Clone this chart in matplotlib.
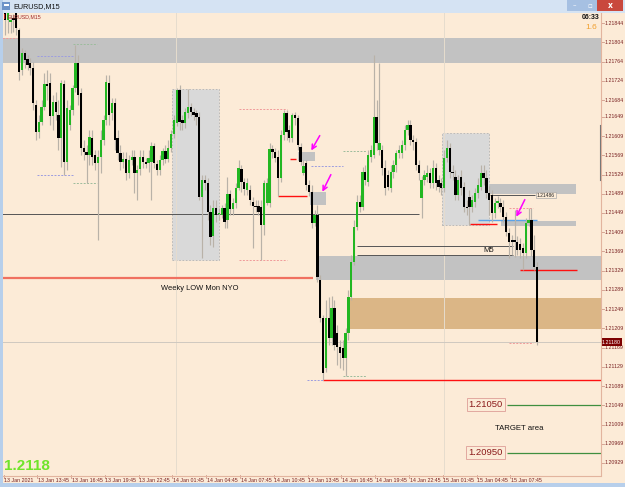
import matplotlib
matplotlib.use("Agg")
import matplotlib.pyplot as plt
import matplotlib.patches as mpatches
import matplotlib.transforms as mtransforms

# ---------------- data (EURUSD M15, 13-15 Jan 2021) ----------------
opens = [1.21865,1.21850,1.21846,1.21855,1.21865,1.21830,1.21746,1.21782,1.21769,1.21761,
1.21751,1.21674,1.21617,1.21638,1.21669,1.21717,1.21719,1.21651,1.21680,1.21653,
1.21605,1.21717,1.21555,1.21632,1.21663,1.21709,1.21761,1.21699,1.21584,1.21576,
1.21570,1.21605,1.21570,1.21553,1.21565,1.21601,1.21642,1.21719,1.21657,1.21678,
1.21605,1.21574,1.21555,1.21561,1.21532,1.21559,1.21565,1.21532,1.21540,1.21565,
1.21555,1.21553,1.21555,1.21588,1.21551,1.21538,1.21559,1.21578,1.21561,1.21584,
1.21613,1.21636,1.21705,1.21642,1.21636,1.21657,1.21669,1.21659,1.21657,1.21649,
1.21482,1.21518,1.21511,1.21451,1.21401,1.21459,1.21447,1.21445,1.21459,1.21434,
1.21489,1.21457,1.21470,1.21501,1.21540,1.21513,1.21497,1.21497,1.21472,1.21464,
1.21464,1.21461,1.21424,1.21470,1.21470,1.21582,1.21576,1.21565,1.21522,1.21611,
1.21657,1.21622,1.21605,1.21653,1.21647,1.21586,1.21532,1.21553,1.21507,1.21493,
1.21428,1.21445,1.21310,1.21231,1.21127,1.21231,1.21189,1.21251,1.21199,1.21170,
1.21168,1.21147,1.21199,1.21274,1.21347,1.21420,1.21472,1.21461,1.21534,1.21513,
1.21565,1.21570,1.21649,1.21580,1.21580,1.21543,1.21528,1.21501,1.21534,1.21549,
1.21574,1.21574,1.21590,1.21622,1.21632,1.21601,1.21597,1.21549,1.21480,1.21518,
1.21524,1.21532,1.21511,1.21543,1.21518,1.21511,1.21501,1.21563,1.21584,1.21534,
1.21524,1.21486,1.21524,1.21503,1.21461,1.21482,1.21461,1.21472,1.21491,1.21503,
1.21532,1.21522,1.21491,1.21486,1.21449,1.21470,1.21470,1.21461,1.21441,1.21407,
1.21393,1.21393,1.21389,1.21384,1.21376,1.21366,1.21428,1.21434,1.21372,1.21337]

highs = [1.21882,1.21875,1.21861,1.21863,1.21875,1.21834,1.21792,1.21788,1.21778,1.21771,
1.21763,1.21684,1.21653,1.21684,1.21740,1.21746,1.21740,1.21694,1.21701,1.21684,
1.21726,1.21726,1.21684,1.21674,1.21715,1.21798,1.21778,1.21709,1.21601,1.21590,
1.21622,1.21622,1.21580,1.21580,1.21622,1.21653,1.21736,1.21736,1.21688,1.21688,
1.21622,1.21590,1.21576,1.21576,1.21570,1.21580,1.21580,1.21549,1.21580,1.21580,
1.21563,1.21580,1.21597,1.21595,1.21559,1.21570,1.21584,1.21590,1.21601,1.21622,
1.21653,1.21709,1.21715,1.21653,1.21667,1.21707,1.21678,1.21667,1.21663,1.21659,
1.21528,1.21528,1.21522,1.21466,1.21476,1.21476,1.21459,1.21466,1.21470,1.21524,
1.21497,1.21480,1.21511,1.21559,1.21549,1.21522,1.21522,1.21507,1.21482,1.21476,
1.21476,1.21476,1.21518,1.21522,1.21595,1.21590,1.21584,1.21580,1.21622,1.21663,
1.21663,1.21632,1.21657,1.21659,1.21653,1.21595,1.21559,1.21559,1.21518,1.21507,
1.21455,1.21466,1.21320,1.21237,1.21268,1.21274,1.21276,1.21268,1.21216,1.21185,
1.21185,1.21210,1.21289,1.21362,1.21434,1.21486,1.21486,1.21545,1.21549,1.21580,
1.21590,1.21778,1.21684,1.21761,1.21590,1.21559,1.21538,1.21549,1.21559,1.21580,
1.21590,1.21601,1.21632,1.21642,1.21642,1.21611,1.21605,1.21559,1.21526,1.21538,
1.21549,1.21543,1.21559,1.21553,1.21528,1.21522,1.21580,1.21601,1.21595,1.21549,
1.21538,1.21528,1.21538,1.21513,1.21476,1.21497,1.21486,1.21501,1.21522,1.21549,
1.21549,1.21538,1.21505,1.21497,1.21480,1.21484,1.21480,1.21476,1.21451,1.21418,
1.21403,1.21455,1.21401,1.21397,1.21387,1.21439,1.21459,1.21459,1.21403,1.21347]

lows = [1.21819,1.21823,1.21823,1.21825,1.21819,1.21726,1.21736,1.21751,1.21746,1.21736,
1.21663,1.21601,1.21605,1.21632,1.21663,1.21684,1.21632,1.21622,1.21642,1.21580,
1.21545,1.21528,1.21538,1.21622,1.21653,1.21701,1.21674,1.21570,1.21559,1.21511,
1.21549,1.21549,1.21538,1.21393,1.21532,1.21590,1.21632,1.21632,1.21642,1.21580,
1.21559,1.21538,1.21543,1.21518,1.21522,1.21549,1.21491,1.21476,1.21528,1.21543,
1.21543,1.21534,1.21476,1.21543,1.21528,1.21528,1.21549,1.21553,1.21555,1.21576,
1.21605,1.21630,1.21622,1.21622,1.21626,1.21647,1.21651,1.21642,1.21632,1.21476,
1.21355,1.21497,1.21434,1.21382,1.21378,1.21430,1.21434,1.21439,1.21418,1.21418,
1.21445,1.21445,1.21459,1.21497,1.21493,1.21486,1.21486,1.21466,1.21376,1.21451,
1.21445,1.21351,1.21403,1.21466,1.21461,1.21563,1.21555,1.21484,1.21513,1.21601,
1.21601,1.21597,1.21597,1.21632,1.21580,1.21549,1.21528,1.21497,1.21484,1.21418,
1.21422,1.21305,1.21222,1.21102,1.21118,1.21174,1.21174,1.21164,1.21133,1.21127,
1.21122,1.21110,1.21185,1.21268,1.21341,1.21414,1.21451,1.21455,1.21507,1.21505,
1.21555,1.21563,1.21580,1.21570,1.21528,1.21486,1.21497,1.21493,1.21522,1.21534,
1.21563,1.21563,1.21580,1.21611,1.21590,1.21580,1.21538,1.21518,1.21439,1.21507,
1.21513,1.21501,1.21501,1.21497,1.21493,1.21486,1.21493,1.21555,1.21522,1.21518,
1.21476,1.21476,1.21486,1.21451,1.21445,1.21424,1.21451,1.21461,1.21480,1.21497,
1.21507,1.21480,1.21445,1.21430,1.21439,1.21459,1.21451,1.21430,1.21401,1.21355,
1.21362,1.21357,1.21362,1.21355,1.21330,1.21355,1.21422,1.21360,1.21330,1.21174]

closes = [1.21850,1.21865,1.21850,1.21850,1.21834,1.21742,1.21782,1.21767,1.21757,1.21751,
1.21678,1.21617,1.21638,1.21669,1.21717,1.21713,1.21651,1.21680,1.21659,1.21605,
1.21719,1.21555,1.21667,1.21663,1.21709,1.21761,1.21694,1.21584,1.21576,1.21570,
1.21607,1.21565,1.21553,1.21565,1.21601,1.21642,1.21721,1.21653,1.21678,1.21601,
1.21574,1.21555,1.21561,1.21532,1.21559,1.21565,1.21532,1.21538,1.21565,1.21555,
1.21551,1.21563,1.21588,1.21553,1.21538,1.21559,1.21578,1.21561,1.21584,1.21613,
1.21642,1.21705,1.21638,1.21636,1.21659,1.21669,1.21659,1.21653,1.21649,1.21482,
1.21518,1.21511,1.21451,1.21399,1.21459,1.21445,1.21449,1.21459,1.21430,1.21489,
1.21457,1.21470,1.21501,1.21543,1.21513,1.21499,1.21511,1.21476,1.21464,1.21461,
1.21451,1.21424,1.21511,1.21511,1.21582,1.21576,1.21563,1.21522,1.21611,1.21657,
1.21617,1.21605,1.21653,1.21647,1.21590,1.21555,1.21547,1.21507,1.21493,1.21428,
1.21445,1.21316,1.21231,1.21116,1.21231,1.21189,1.21251,1.21174,1.21170,1.21158,
1.21147,1.21199,1.21274,1.21347,1.21420,1.21472,1.21461,1.21534,1.21518,1.21570,
1.21580,1.21649,1.21595,1.21595,1.21543,1.21501,1.21503,1.21534,1.21549,1.21574,
1.21580,1.21590,1.21622,1.21632,1.21601,1.21597,1.21549,1.21532,1.21518,1.21528,
1.21532,1.21511,1.21543,1.21511,1.21503,1.21501,1.21563,1.21584,1.21534,1.21532,
1.21486,1.21518,1.21501,1.21461,1.21459,1.21461,1.21476,1.21491,1.21507,1.21532,
1.21522,1.21491,1.21476,1.21449,1.21470,1.21472,1.21461,1.21441,1.21409,1.21389,
1.21389,1.21389,1.21372,1.21372,1.21366,1.21428,1.21434,1.21372,1.21337,1.21180]

time_labels = ["13 Jan 2021", "13 Jan 13:45", "13 Jan 16:45", "13 Jan 19:45",
               "13 Jan 22:45", "14 Jan 01:45", "14 Jan 04:45", "14 Jan 07:45",
               "14 Jan 10:45", "14 Jan 13:45", "14 Jan 16:45", "14 Jan 19:45",
               "14 Jan 22:45", "15 Jan 01:45", "15 Jan 04:45", "15 Jan 07:45"]
label_bars = [0, 12, 24, 36, 48, 60, 72, 84, 96, 108, 120, 132, 144, 156, 168, 180]

price_labels = ["1.21844", "1.21804", "1.21764", "1.21724", "1.21684", "1.21649",
                "1.21609", "1.21569", "1.21529", "1.21489", "1.21449", "1.21409",
                "1.21369", "1.21329", "1.21289", "1.21249", "1.21209", "1.21169",
                "1.21129", "1.21089", "1.21049", "1.21009", "1.20969", "1.20929"]

last_price = 1.21180
target_levels = [1.21050, 1.20950]

# ---------------- figure / window chrome ----------------
W, H = 625, 487
BG = "#fcebd7"
AXT = "#7a2222"
fig = plt.figure(figsize=(W / 100, H / 100), dpi=100)
fig.patch.set_facecolor(BG)


def frect(x0, y0, x1, y1, color, **kw):
    fig.add_artist(mpatches.Rectangle((x0 / W, 1 - y1 / H), (x1 - x0) / W, (y1 - y0) / H,
                                      transform=fig.transFigure, facecolor=color,
                                      edgecolor=kw.pop("ec", "none"), **kw))


def ftext(x, y, s, **kw):
    fig.text(x / W, 1 - y / H, s, **kw)


frect(0, 0, W, 13, "#d5e3f3")
frect(0, 0, 3, H, "#b7cfeb")
frect(0, 483, W, H, "#b7cfeb")
frect(2, 2, 10, 10, "#6d93c8")
frect(3.5, 3.5, 8.5, 5.5, "#ffffff")
ftext(13, 6.5, "EURUSD,M15", fontsize=5.2, va="center", ha="left", color="#111111",
      family="Liberation Sans")
frect(567, 0, 582, 11, "#a6c0e2")
frect(582, 0, 597, 11, "#a6c0e2")
frect(597, 0, 623, 11, "#c9483d")
ftext(574.5, 5.5, "–", fontsize=5, color="white", ha="center", va="center")
ftext(589.5, 5.5, "▫", fontsize=5, color="white", ha="center", va="center")
ftext(610, 5.5, "x", fontsize=5.5, color="white", ha="center", va="center", weight="bold")

# ---------------- main chart axes ----------------
ax = fig.add_axes([3 / W, 1 - 475 / H, 598 / W, 462 / H])
ax.set_facecolor(BG)
for s in ax.spines.values():
    s.set_visible(False)
ax.set_xticks([])
ax.set_yticks([])
ax.set_xlim(-0.71, 211.72)
ax.set_ylim(1.20904, 1.21865)
END = 215

# zones (background objects)
zones = [  # (bar0, bar1, price_top, price_bottom, color, dashed border)
    (-5, END, 1.21813, 1.21761, "#c2c2c2", False),
    (59.3, 76.0, 1.21707, 1.21351, "#d9d9d9", True),
    (155.2, 171.9, 1.21615, 1.21424, "#d9d9d9", True),
    (110.5, END, 1.21360, 1.21310, "#c2c2c2", False),
    (122.2, END, 1.21272, 1.21208, "#dbb686", False),
    (104.1, 110.1, 1.21576, 1.21557, "#c2c2c2", False),
    (108.3, 114.0, 1.21493, 1.21466, "#c2c2c2", False),
    (171.9, 202.8, 1.21509, 1.21489, "#c2c2c2", False),
    (176.2, 202.8, 1.21432, 1.21422, "#c2c2c2", False),
]
for b0, b1, pt, pb, col, dash in zones:
    ax.add_patch(mpatches.Rectangle((b0, pb), b1 - b0, pt - pb, facecolor=col,
                                    edgecolor="#b4b4b4" if dash else "none",
                                    linestyle=(0, (2, 2)), lw=0.6, zorder=1))

# day separators (faint)
for b in [60.7, 156.0]:
    ax.axvline(b, color="#e6dccd", lw=0.7, zorder=1.2)

# current price line
ax.axhline(last_price, color="#cfc8c0", lw=0.7, zorder=1.3)

# horizontal level lines: (bar0, bar1, price, color, lw, style)
levels = [
    (-5, 109.4, 1.21314, "#f07060", 1.6, "-"),
    (113.0, END, 1.21102, "#ff1010", 1.0, "-"),
    (183.0, 203.2, 1.21330, "#ff1010", 1.0, "-"),
    (97.0, 107.3, 1.21484, "#ff1010", 1.0, "-"),
    (101.2, 103.4, 1.21561, "#ff1010", 1.0, "-"),
    (165.2, 174.8, 1.21426, "#ff1010", 1.0, "-"),
    (-5, 147.0, 1.21447, "#555555", 0.7, "-"),
    (125.0, 180.5, 1.21380, "#555555", 0.7, "-"),
    (125.0, 180.5, 1.21362, "#555555", 0.7, "-"),
    (172.3, 188.3, 1.21486, "#555555", 0.7, "-"),
    (168.0, 189.0, 1.21434, "#5ba3e8", 1.0, "-"),
    (178.3, END, target_levels[0], "#3f8f3f", 0.9, "-"),
    (178.3, END, target_levels[1], "#3f8f3f", 0.9, "-"),
    (-5, 4.3, 1.21813, "#f09a9a", 0.7, "--"),
    (11.4, 24.2, 1.21775, "#9c9ce0", 0.7, "--"),
    (24.2, 32.7, 1.21800, "#9cbc9c", 0.7, "--"),
    (11.4, 24.2, 1.21528, "#9c9ce0", 0.7, "--"),
    (24.2, 32.7, 1.21511, "#9cbc9c", 0.7, "--"),
    (83.1, 100.2, 1.21665, "#f09a9a", 0.7, "--"),
    (83.1, 100.2, 1.21351, "#f09a9a", 0.7, "--"),
    (120.0, 128.2, 1.21578, "#9cbc9c", 0.7, "--"),
    (120.0, 128.2, 1.21110, "#9cbc9c", 0.7, "--"),
    (108.7, 120.0, 1.21547, "#9c9ce0", 0.7, "--"),
    (107.3, 113.0, 1.21102, "#9c9ce0", 0.7, "--"),
    (179.0, 187.6, 1.21459, "#f09a9a", 0.7, "--"),
    (179.0, 187.6, 1.21179, "#f09a9a", 0.7, "--"),
]
for b0, b1, p, col, lw, ls in levels:
    ax.plot([b0, b1], [p, p], color=col, lw=lw, ls=ls, zorder=2,
            dashes=(2, 1.5) if ls == "--" else (None, None), solid_capstyle="butt")

# candles
idx = list(range(len(opens)))
bull = [c >= o for o, c in zip(opens, closes)]
ax.vlines(idx, lows, highs, color="#b9b2a8", lw=0.85, zorder=3)
bottoms = [min(o, c) for o, c in zip(opens, closes)]
heights = [max(abs(c - o), 0.00003) for o, c in zip(opens, closes)]
colors = ["#22b722" if b else "#000000" for b in bull]
ax.bar(idx, heights, bottom=bottoms, width=0.82, color=colors, edgecolor="none", zorder=4)

# magenta arrows
arrows = [((112.3, 1.21615), (108.3, 1.21574)),
          ((116.2, 1.21534), (112.3, 1.21488)),
          ((185.1, 1.21482), (181.2, 1.21436))]
for (x0, y0), (x1, y1) in arrows:
    ax.annotate("", xy=(x1, y1), xytext=(x0, y0),
                arrowprops=dict(arrowstyle="->", color="#ff00ff", lw=1.1,
                                mutation_scale=8), zorder=6)

# chart texts
ax.text(55.4, 1.21291, "Weeky LOW Mon NYO", fontsize=5.4, va="center", ha="left",
        color="#111111", family="Liberation Sans", zorder=6)
ax.text(170.0, 1.21371, "M5", fontsize=5.6, va="center", ha="left",
        color="#111111", family="Liberation Sans", zorder=6)
ax.text(174.0, 1.21000, "TARGET area", fontsize=5.6, va="center", ha="left",
        color="#111111", family="Liberation Sans", zorder=6)
ax.text(188.9, 1.21486, "1.21486", fontsize=3.6, va="center", ha="left", color="#222222",
        family="Liberation Sans", zorder=6,
        bbox=dict(boxstyle="square,pad=0.15", fc=BG, ec="#aaaaaa", lw=0.5))
for lv in target_levels:
    ax.text(176.8, lv, f"{lv:.5f}", fontsize=6.8, va="center", ha="right", color="#8b1a1a",
            family="Liberation Sans", zorder=6,
            bbox=dict(boxstyle="square,pad=0.2", fc=BG, ec="#e2a8a0", lw=0.7))

# top-left chart label, clock, spread, big price
ftext(8, 16.5, "EURUSD,M15", fontsize=3.8, va="center", ha="left", color="#a12a2a",
      family="Liberation Sans")
frect(4, 14, 5, 19, "#c02020")
ftext(600, 17.5, "06:33", fontsize=5, va="center", ha="right", color="#111111",
      family="Liberation Sans", weight="bold")
ftext(585, 27.5, "1.6", fontsize=6, va="center", ha="left", color="#f0a030",
      family="Liberation Sans")
ftext(4, 466, f"{last_price:.4f}", fontsize=11, va="center", ha="left", color="#70e42a",
      family="Liberation Sans", weight="bold")

# ---------------- axes (MT4 style) ----------------
fig.add_artist(plt.Line2D([601 / W, 601 / W], [1 - 13 / H, 1 - 475 / H], color="#e2b49e",
                          lw=0.8, transform=fig.transFigure))
fig.add_artist(plt.Line2D([3 / W, 601 / W], [1 - 475.5 / H, 1 - 475.5 / H], color="#e2b49e",
                          lw=0.8, transform=fig.transFigure))
fig.add_artist(plt.Line2D([599.5 / W, 599.5 / W], [1 - 125 / H, 1 - 180 / H], color="#777777",
                          lw=0.8, transform=fig.transFigure))

ty = mtransforms.blended_transform_factory(ax.transAxes, ax.transData)
for lab in price_labels:
    v = float(lab)
    ax.plot([1.0, 1.0 + 2.5 / 598], [v, v], color="#d09a8a", lw=0.6, transform=ty,
            clip_on=False)
    ax.text(1.0 + 4 / 598, v, lab, fontsize=3.8, va="center", ha="left", color=AXT,
            family="Liberation Sans", transform=ty, clip_on=False)

# current price tag
ax.text(1.0 + 1 / 598, last_price, f"{last_price:.5f}", fontsize=3.8, va="center", ha="left",
        color="white", family="Liberation Sans", transform=ty, clip_on=False, zorder=7,
        bbox=dict(boxstyle="square,pad=0.25", fc="#7d0000", ec="none"))

tx = mtransforms.blended_transform_factory(ax.transData, ax.transAxes)
for b, lab in zip(label_bars, time_labels):
    ax.plot([b - 0.5, b - 0.5], [0, -3 / 462], color="#d09a8a", lw=0.6, transform=tx,
            clip_on=False)
    ax.text(b - 0.3, -5.5 / 462, lab, fontsize=3.8, va="center", ha="left", color=AXT,
            family="Liberation Sans", transform=tx, clip_on=False)

fig.savefig("out.png", dpi=100, facecolor=BG)
